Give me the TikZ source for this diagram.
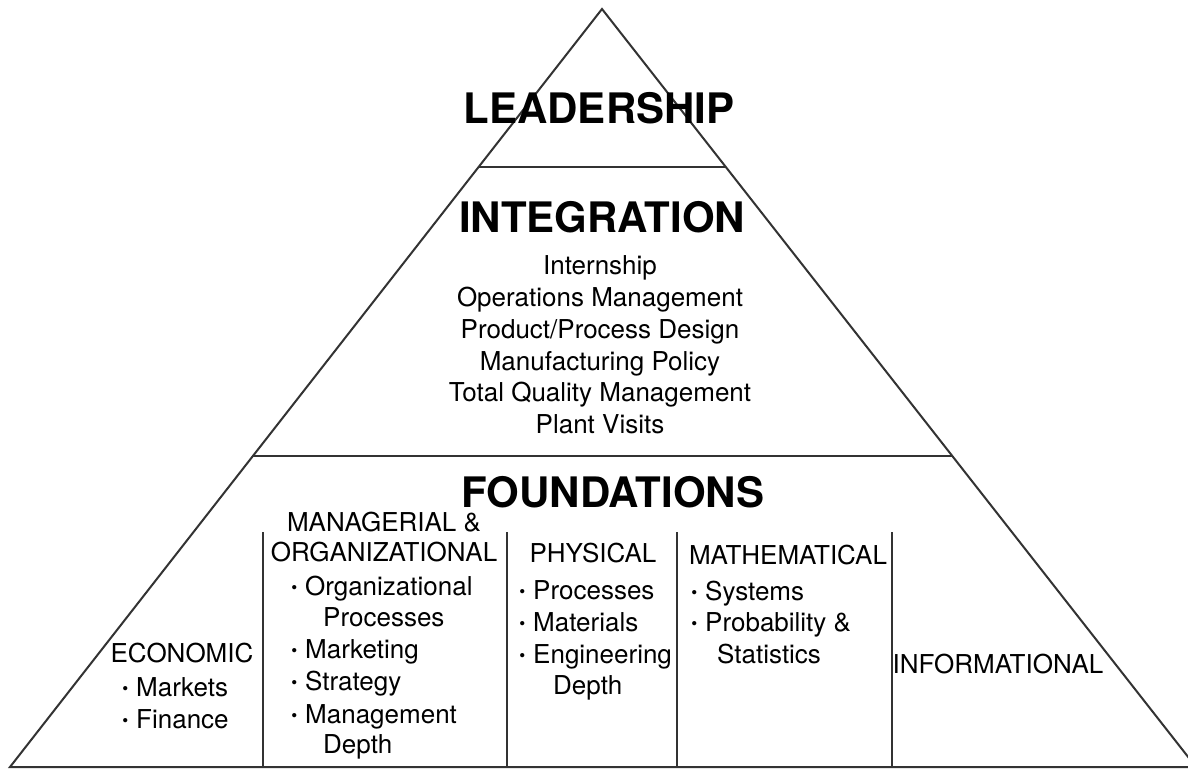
\documentclass[tikz,border=0pt]{standalone}
\usepackage{fontspec}
\setmainfont{TeX Gyre Heros}
\usetikzlibrary{calc}

\newcommand\bul{\llap{\raisebox{1.2pt}{\fontsize{17}{17}\selectfont\textbullet}\hspace{8pt}}}
\def\rowsep{31.8}

\begin{document}
\begin{tikzpicture}[x=1pt,y=-1pt]
    \tikzstyle{rule}=[draw=black!80,line width=2pt]
    \tikzstyle{title}=[anchor=base,inner sep=0pt,font=\fontsize{42}{42}\selectfont\bfseries]
    \tikzstyle{course}=[anchor=base,inner sep=0pt,font=\fontsize{26}{26}\selectfont]
    \tikzstyle{item}=[anchor=base west,inner sep=0pt,font=\fontsize{26}{26}\selectfont]

    \useasboundingbox (0,0) rectangle (1188,768);
    \clip (0,0) rectangle (1188,768);

    %%% DRAW THE PYRAMID
    \coordinate (apex) at (602,9);
    \coordinate (BL) at (10,767);
    \coordinate (BR) at (1196,767);
    \draw[rule] (BL) -- (apex) -- (BR) -- cycle;

    \coordinate (L-1) at ($(apex)!0.2084!(BL)$);
    \coordinate (R-1) at ($(apex)!0.2084!(BR)$);
    \coordinate (L-2) at ($(apex)!0.5897!(BL)$);
    \coordinate (R-2) at ($(apex)!0.5897!(BR)$);
    \draw[rule] (L-1) -- (R-1);
    \draw[rule] (L-2) -- (R-2);

    \foreach \x [count=\i] in {263,507,677,892}{
        \coordinate (D-\i) at (\x,532);
        \draw[rule] (D-\i) -- (D-\i |- BL);
    }

    %%% LEVEL TITLES
    \node[title] (lead) at (599,123) {LEADERSHIP};
    \node[title] (integ) at (602,232) {INTEGRATION};
    \node[title] (found) at (613,507) {FOUNDATIONS};

    %%% INTEGRATION COURSES
    \foreach \txt [count=\i] in {Internship,Operations Management,Product/Process Design,
        Manufacturing Policy,Total Quality Management,Plant Visits}
        \node[course] (I-\i) at (600,274.6+\rowsep*\i-\rowsep) {\txt};

    %%% FOUNDATION AREAS
    \node[course] (econ) at (182,662) {ECONOMIC};
    \node[item] (econ-1) at (136,696) {\bul Markets};
    \node[item] (econ-2) at (136,728) {\bul Finance};

    \node[course] (mgmt) at (384,531) {MANAGERIAL \&};
    \node[course] (org) at (384,561) {ORGANIZATIONAL};
    \node[item] (mgmt-1) at (305,595) {\bul Organizational};
    \node[item] (mgmt-1b) at (323,626) {Processes};
    \node[item] (mgmt-2) at (305,658) {\bul Marketing};
    \node[item] (mgmt-3) at (305,690) {\bul Strategy};
    \node[item] (mgmt-4) at (305,723) {\bul Management};
    \node[item] (mgmt-4b) at (323,753) {Depth};

    \node[course] (phys) at (593,562) {PHYSICAL};
    \node[item] (phys-1) at (533,599) {\bul Processes};
    \node[item] (phys-2) at (533,631) {\bul Materials};
    \node[item] (phys-3) at (533,663) {\bul Engineering};
    \node[item] (phys-3b) at (553,694) {Depth};

    \node[course] (math) at (788,564) {MATHEMATICAL};
    \node[item] (math-1) at (705,600) {\bul Systems};
    \node[item] (math-2) at (705,631) {\bul Probability \&};
    \node[item] (math-2b) at (717,663) {Statistics};

    \node[course] (info) at (998,673) {INFORMATIONAL};

\end{tikzpicture}
\end{document}
